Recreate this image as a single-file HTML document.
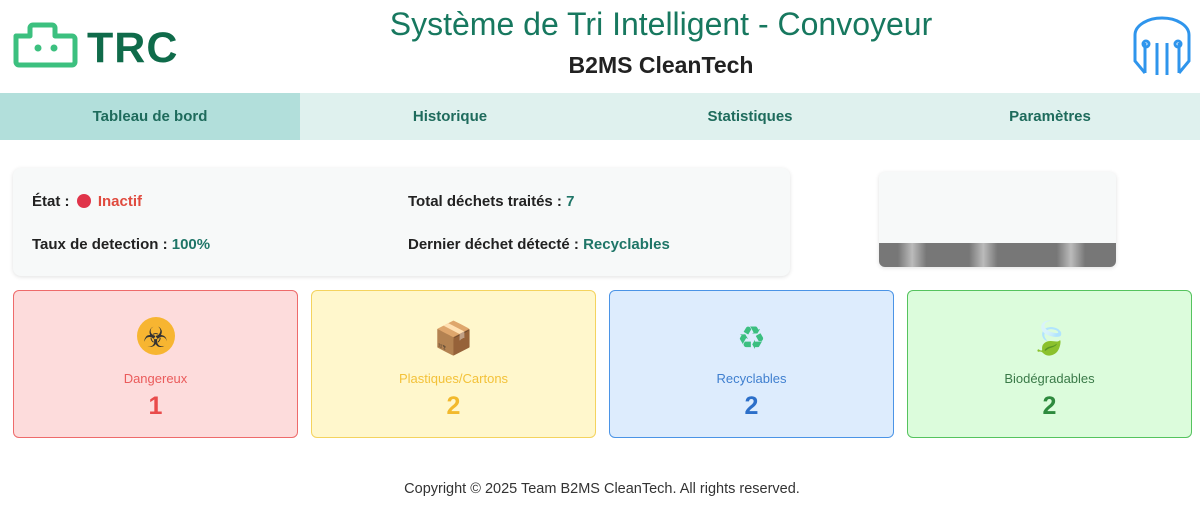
<!DOCTYPE html>
<html><head><meta charset="utf-8"><style>
*{margin:0;padding:0;box-sizing:border-box}
body{width:1200px;height:525px;background:#fff;font-family:"Liberation Sans","DejaVu Sans",sans-serif;position:relative;overflow:hidden}
.abs{position:absolute}
.title{left:0;width:1322px;text-align:center;top:6px;font-size:32px;color:#17785f;}
.sub{left:0;width:1322px;text-align:center;top:52px;font-size:23px;color:#222;font-weight:bold}
.nav{top:93px;left:0;width:1200px;height:47px;background:#dff1ee;display:flex}
.nav div{width:300px;text-align:center;line-height:47px;font-weight:bold;font-size:15px;color:#1e6b5c}
.nav .act{background:#b2dfdb}
.info{left:13px;top:168px;width:777px;height:108px;background:#f7f9f9;border-radius:8px;box-shadow:0 1px 4px rgba(0,0,0,.12);font-size:15px;font-weight:bold;color:#222}
.info span.v{color:#1e7567}
.card{top:290px;width:285px;height:148px;border-radius:6px;border:1px solid;text-align:center}
.card .ic{position:absolute;top:28px;left:0;width:100%;font-size:32px;font-family:"DejaVu Sans",sans-serif}
.card .lb{position:absolute;top:80px;left:0;width:100%;font-size:13px}
.card .n{position:absolute;top:101px;left:0;width:100%;font-size:25px;font-weight:bold}
</style></head><body>
<svg class="abs" style="left:12px;top:22px" width="66" height="46" viewBox="0 0 66 46">
<path d="M4 14 H18 V6 a3 3 0 0 1 3-3 H40 a3 3 0 0 1 3 3 V14 H60 a3 3 0 0 1 3 3 V40 a3 3 0 0 1-3 3 H7 a3 3 0 0 1-3-3Z" fill="none" stroke="#3cc07f" stroke-width="5" stroke-linejoin="round"/>
<circle cx="26" cy="26" r="3.5" fill="#3cc07f"/><circle cx="42" cy="26" r="3.5" fill="#3cc07f"/></svg>
<div class="abs" style="left:87px;top:24px;font-size:43px;font-weight:900;color:#0f6b4a;letter-spacing:1px">TRC</div>
<div class="abs title">Système de Tri Intelligent - Convoyeur</div>
<div class="abs sub">B2MS CleanTech</div>
<svg class="abs" style="left:1131px;top:15px" width="62" height="62" viewBox="0 0 62 62" fill="none" stroke="#2f95ec" stroke-width="3">
<path d="M14 58 L4 46 V20 A27 17 0 0 1 58 20 V46 L48 58"/><path d="M14 58 V28 M48 58 V28"/>
<path d="M26 60 V28 M36 60 V28"/><circle cx="15" cy="29" r="3"/><circle cx="47" cy="29" r="3"/>
</svg>
<div class="abs nav"><div class="act">Tableau de bord</div><div>Historique</div><div>Statistiques</div><div>Paramètres</div></div>
<div class="abs info">
<div class="abs" style="left:19px;top:25px">État : <span style="display:inline-block;width:14px;height:14px;border-radius:50%;background:#e0344a;vertical-align:-2px;margin:0 3px"></span> <span style="color:#e04b3f">Inactif</span></div>
<div class="abs" style="left:19px;top:68px">Taux de detection : <span class="v">100%</span></div>
<div class="abs" style="left:395px;top:25px">Total déchets traités : <span class="v">7</span></div>
<div class="abs" style="left:395px;top:68px">Dernier déchet détecté : <span class="v">Recyclables</span></div>
</div>
<div class="abs" style="left:879px;top:172px;width:237px;height:95px;border-radius:6px;background:#f7f9f9;box-shadow:0 1px 4px rgba(0,0,0,.12);overflow:hidden">
<div class="abs" style="left:0;bottom:0;width:100%;height:24px;background:linear-gradient(90deg,#777 0%,#777 8%,#bbb 14%,#777 20%,#777 38%,#bbb 44%,#777 50%,#777 75%,#bbb 81%,#777 87%,#777 100%)"></div></div>
<div class="abs card" style="left:13px;background:#fddcdc;border-color:#ee6b6b"><div class="abs" style="left:123px;top:26px;width:38px;height:38px;border-radius:50%;background:#f7b531"></div><div class="ic" style="font-size:28px;top:30px;color:#333">☣</div><div class="lb" style="color:#ea5b5b">Dangereux</div><div class="n" style="color:#e94b4b">1</div></div>
<div class="abs card" style="left:311px;background:#fff7cc;border-color:#f4d35e"><div class="ic" style="color:#b07a4a">📦</div><div class="lb" style="color:#f3c23a">Plastiques/Cartons</div><div class="n" style="color:#f2b92c">2</div></div>
<div class="abs card" style="left:609px;background:#ddecfd;border-color:#4b94e6"><div class="ic" style="color:#3bbf80">♻</div><div class="lb" style="color:#3f7fcf">Recyclables</div><div class="n" style="color:#2c6fc9">2</div></div>
<div class="abs card" style="left:907px;background:#dcfcdc;border-color:#55c35e"><div class="ic" style="color:#3fae5a">🍃</div><div class="lb" style="color:#3a7a48">Biodégradables</div><div class="n" style="color:#2e8a3e">2</div></div>
<div class="abs" style="left:0;width:1204px;text-align:center;top:481px;font-size:14.5px;color:#333">Copyright © 2025 Team B2MS CleanTech. All rights reserved.</div>
</body></html>
